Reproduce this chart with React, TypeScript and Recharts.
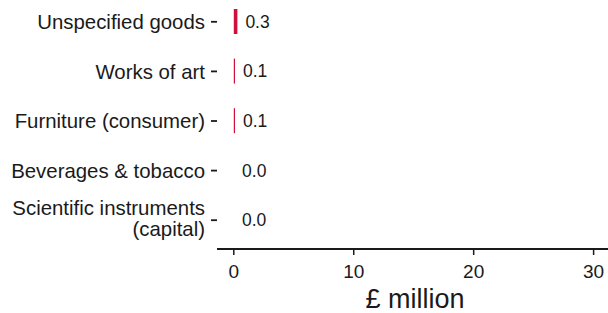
import React from "react";
import { BarChart, Bar, XAxis, YAxis, LabelList } from "recharts";

const categories = [
  "Unspecified goods",
  "Works of art",
  "Furniture (consumer)",
  "Beverages & tobacco",
  "Scientific instruments\n(capital)",
];
const values = [0.3, 0.1, 0.1, 0.02, 0.01];
const xTicks = [0, 10, 20, 30];

const data = categories.map((name, i) => ({ name, value: values[i] }));

const FONT = "'Liberation Sans', Arial, Helvetica, sans-serif";
const INK = "#1a1a1a";
const BAR = "#D0103A";

const CategoryTick = (props: any) => {
  const { x, y, payload } = props;
  const lines = String(payload.value).split("\n");
  const lineH = 21;
  const start = -((lines.length - 1) * lineH) / 2 - (lines.length > 1 ? 1.5 : 0);
  return (
    <text
      x={x}
      y={y}
      textAnchor="end"
      fill={INK}
      fontSize={20.4}
      fontFamily={FONT}
    >
      {lines.map((l, i) => (
        <tspan key={i} x={x} y={y + start + i * lineH} dy="0.355em">
          {l}
        </tspan>
      ))}
    </text>
  );
};

// sub-pixel bars vanish, as they do in the original
const ThinBar = (props: any) => {
  const { x, y, width, height, fill } = props;
  if (!width || width < 0.5) return <g />;
  return <rect x={x} y={y} width={width} height={height} fill={fill} />;
};

const App: React.FC = () => {
  return (
    <div
      style={{
        position: "absolute",
        left: 0,
        top: 0,
        width: 608,
        height: 313,
        overflow: "hidden",
        background: "#fff",
      }}
    >
      <div style={{ position: "absolute", left: 0, top: -4 }}>
        <BarChart
          width={608}
          height={317}
          data={data}
          layout="vertical"
          margin={{ top: 0, right: 0, bottom: 0, left: 0 }}
        >
          <XAxis
            type="number"
            domain={[-1.4, 31.2]}
            allowDataOverflow
            ticks={xTicks}
            height={64}
            axisLine={{ stroke: INK, strokeWidth: 2 }}
            tickLine={{ stroke: INK, strokeWidth: 1.5 }}
            tickSize={6}
            tickMargin={10}
            tick={{ fill: INK, fontSize: 19, fontFamily: FONT }}
            label={{
              value: "£ million",
              position: "insideBottom",
              offset: 5,
              dx: 2.5,
              style: { fill: INK, fontSize: 27, fontFamily: FONT },
            }}
          />
          <YAxis
            type="category"
            dataKey="name"
            width={217}
            axisLine={false}
            tickLine={{ stroke: INK, strokeWidth: 1.8 }}
            tickSize={6}
            tickMargin={6}
            padding={{ top: 1, bottom: 4 }}
            interval={0}
            tick={<CategoryTick />}
          />
          <Bar
            dataKey="value"
            fill={BAR}
            barSize={25}
            shape={<ThinBar />}
            isAnimationActive={false}
          >
            <LabelList
              dataKey="value"
              position="right"
              offset={8}
              formatter={(v: any) => Number(v).toFixed(1)}
              style={{ fill: INK, fontSize: 17.5, fontFamily: FONT }}
            />
          </Bar>
        </BarChart>
      </div>
    </div>
  );
};

export default App;
